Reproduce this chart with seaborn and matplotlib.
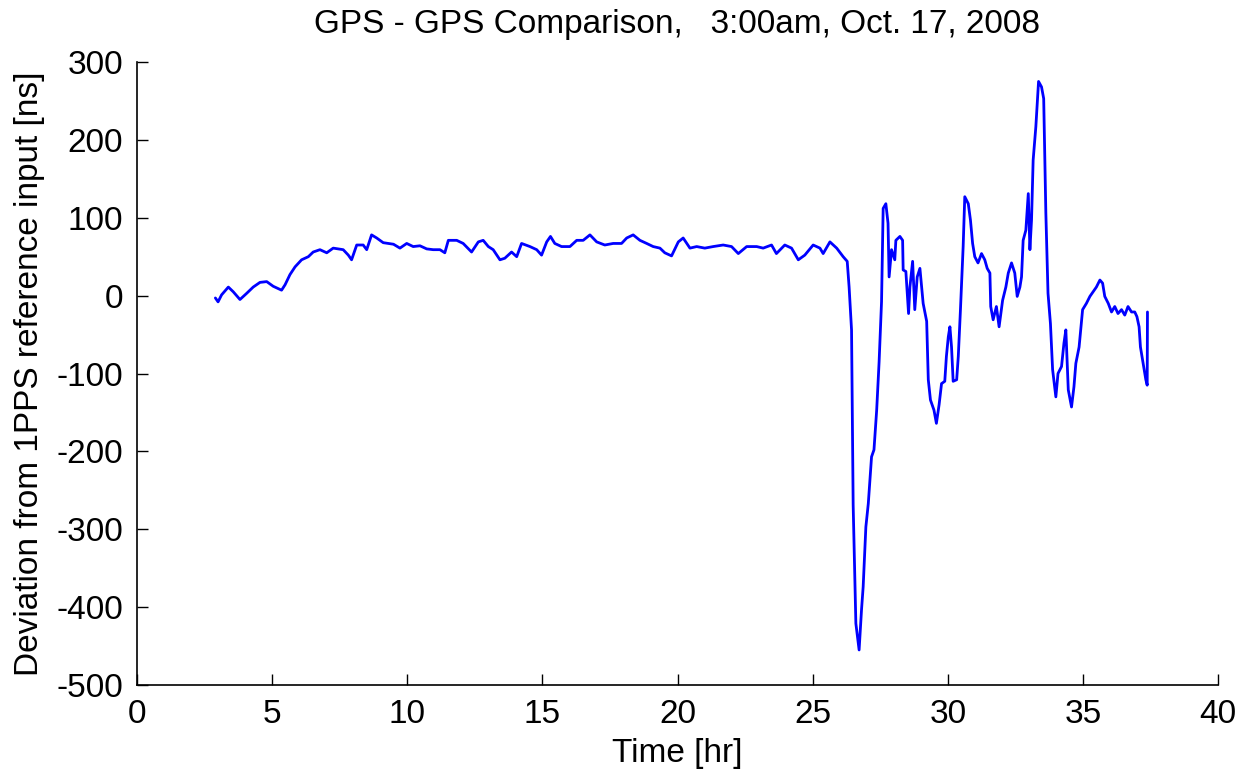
import matplotlib
matplotlib.use("Agg")
import matplotlib.pyplot as plt
import pandas as pd
import seaborn as sns

# Time since start [hr] and measured deviation [ns]
hours = [
    2.9, 3.0, 3.13, 3.38, 3.56, 3.81, 4.06, 4.3, 4.55, 4.8,
    5.04, 5.35, 5.48, 5.66, 5.85, 6.09, 6.34, 6.52, 6.77, 7.02,
    7.26, 7.63, 7.82, 7.94, 8.13, 8.37, 8.5, 8.68, 8.87, 9.11,
    9.49, 9.73, 9.98, 10.22, 10.47, 10.72, 10.96, 11.21, 11.39, 11.52,
    11.83, 12.07, 12.38, 12.63, 12.81, 13.0, 13.18, 13.43, 13.61, 13.86,
    14.05, 14.23, 14.54, 14.79, 14.97, 15.16, 15.3, 15.46, 15.71, 16.02,
    16.27, 16.51, 16.76, 17.01, 17.31, 17.62, 17.93, 18.12, 18.36, 18.61,
    18.86, 19.1, 19.35, 19.53, 19.78, 20.03, 20.21, 20.46, 20.71, 21.01,
    21.32, 21.69, 22.0, 22.25, 22.56, 22.93, 23.17, 23.48, 23.66, 23.97,
    24.22, 24.47, 24.71, 25.02, 25.27, 25.39, 25.64, 25.89, 26.13, 26.28,
    26.35, 26.44, 26.5, 26.6, 26.72, 26.81, 26.87, 26.97, 27.06, 27.18,
    27.27, 27.37, 27.46, 27.55, 27.61, 27.71, 27.79, 27.83, 27.92, 28.04,
    28.08, 28.23, 28.33, 28.35, 28.45, 28.5, 28.55, 28.6, 28.7, 28.78,
    28.87, 28.97, 29.09, 29.22, 29.28, 29.36, 29.49, 29.58, 29.68, 29.77,
    29.89, 29.95, 30.02, 30.08, 30.14, 30.2, 30.33, 30.39, 30.47, 30.57,
    30.63, 30.76, 30.84, 30.92, 31.0, 31.12, 31.25, 31.37, 31.46, 31.56,
    31.59, 31.68, 31.8, 31.9, 32.03, 32.15, 32.24, 32.36, 32.48, 32.57,
    32.67, 32.73, 32.79, 32.89, 32.98, 33.04, 33.1, 33.16, 33.26, 33.36,
    33.47, 33.55, 33.63, 33.71, 33.8, 33.88, 34.0, 34.08, 34.21, 34.3,
    34.37, 34.46, 34.58, 34.67, 34.74, 34.86, 34.99, 35.13, 35.26, 35.38,
    35.5, 35.63, 35.73, 35.81, 35.94, 36.06, 36.18, 36.3, 36.43, 36.55,
    36.67, 36.8, 36.92, 37.0, 37.08, 37.13, 37.23, 37.33, 37.38, 37.39,
]
deviation_ns = [
    -3, -8, 1, 11, 5, -5, 3, 11, 17, 18,
    12, 7, 14, 27, 37, 46, 50, 56, 59, 55,
    61, 59, 52, 46, 65, 65, 59, 78, 74, 68,
    66, 61, 67, 63, 64, 60, 59, 59, 55, 71,
    71, 67, 56, 69, 71, 63, 59, 46, 48, 56,
    50, 67, 63, 59, 52, 69, 76, 67, 63, 63,
    71, 71, 78, 69, 65, 67, 67, 74, 78, 71,
    67, 63, 61, 55, 51, 69, 74, 61, 63, 61,
    63, 65, 63, 54, 63, 63, 61, 65, 54, 65,
    61, 46, 52, 65, 61, 54, 69, 61, 50, 44,
    11, -44, -269, -421, -455, -403, -374, -297, -267, -207,
    -198, -147, -85, -8, 112, 118, 93, 24, 59, 46,
    71, 76, 71, 33, 31, 3, -23, 11, 44, -18,
    24, 35, -10, -33, -108, -134, -147, -164, -140, -113,
    -110, -78, -53, -40, -66, -110, -108, -78, -18, 63,
    127, 118, 97, 67, 50, 42, 54, 46, 35, 29,
    -14, -31, -14, -40, -6, 11, 29, 42, 29, -1,
    11, 24, 71, 84, 131, 59, 97, 174, 217, 275,
    268, 253, 106, 3, -36, -95, -130, -100, -91, -61,
    -44, -121, -143, -117, -87, -66, -18, -10, -1, 5,
    11, 20, 16, -1, -10, -21, -14, -23, -18, -25,
    -14, -21, -21, -27, -40, -66, -87, -108, -115, -21,
]

x_ticks = [0, 5, 10, 15, 20, 25, 30, 35, 40]
y_ticks = [-500, -400, -300, -200, -100, 0, 100, 200, 300]

title_text = "GPS - GPS Comparison,   3:00am, Oct. 17, 2008"
x_label = "Time [hr]"
y_label = "Deviation from 1PPS reference input [ns]"

sns.set_style("ticks")
plt.rcParams["font.family"] = ["Liberation Sans Narrow", "Liberation Sans", "DejaVu Sans"]
plt.rcParams["font.size"] = 24
plt.rcParams["text.color"] = "black"
plt.rcParams["axes.labelcolor"] = "black"

df = pd.DataFrame({"hours": hours, "deviation": deviation_ns})

fig = plt.figure(figsize=(12.45, 7.73), dpi=100)
ax = fig.add_axes([137 / 1245, 1 - 685 / 773, (1218 - 137) / 1245, (685 - 62) / 773])

sns.lineplot(data=df, x="hours", y="deviation", ax=ax, color="#0000ff",
             linewidth=2.0, sort=False, estimator=None)

ax.set_xlim(0, 40)
ax.set_ylim(-500, 300)
ax.set_xticks(x_ticks)
ax.set_yticks(y_ticks)
ax.set_xticklabels([str(v) for v in x_ticks])
ax.set_yticklabels([str(v) for v in y_ticks])

ax.tick_params(direction="in", length=8, width=1.0, colors="black",
               labelsize=24, pad=10)
for side in ("top", "right"):
    ax.spines[side].set_visible(False)
for side in ("left", "bottom"):
    ax.spines[side].set_linewidth(1.2)
    ax.spines[side].set_color("black")

ax.set_title(title_text, fontsize=24, pad=21, color="black")
ax.set_xlabel(x_label, fontsize=24, labelpad=6, color="black")
ax.set_ylabel(y_label, fontsize=24, labelpad=8, color="black")

fig.savefig("out.png", dpi=100, facecolor="white")
